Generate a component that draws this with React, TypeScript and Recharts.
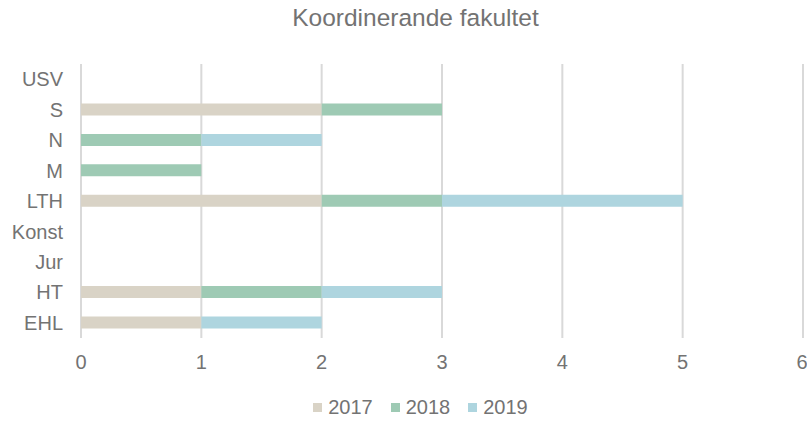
import { BarChart, Bar, XAxis, YAxis, CartesianGrid } from 'recharts'

const faculties = ['USV', 'S', 'N', 'M', 'LTH', 'Konst', 'Jur', 'HT', 'EHL']
const y2017 = [0, 2, 0, 0, 2, 0, 0, 1, 1]
const y2018 = [0, 1, 1, 1, 1, 0, 0, 1, 0]
const y2019 = [0, 0, 1, 0, 2, 0, 0, 1, 1]
const xTicks = [0, 1, 2, 3, 4, 5, 6]

const COLORS = {
  y2017: '#d9d3c6',
  y2018: '#9ecab4',
  y2019: '#aed5df',
  grid: '#d9d9d9',
  text: '#737373'
}

const FONT = '"Liberation Sans", Arial, sans-serif'

const data = faculties.map((name, i) => ({
  name,
  y2017: y2017[i],
  y2018: y2018[i],
  y2019: y2019[i]
}))

const legendItems = [
  { label: '2017', color: COLORS.y2017 },
  { label: '2018', color: COLORS.y2018 },
  { label: '2019', color: COLORS.y2019 }
]

export default function App() {
  return (
    <div style={{ position: 'absolute', left: 0, top: 0, width: 807, height: 421, background: '#fff', fontFamily: FONT }}>
      <div style={{ position: 'absolute', top: 4, left: 0, width: 831, textAlign: 'center', fontSize: 24.5, color: COLORS.text }}>
        Koordinerande fakultet
      </div>
      <BarChart
        width={807}
        height={421}
        data={data}
        layout="vertical"
        margin={{ top: 64, right: 4, bottom: 43, left: 0 }}
        barSize={12}
      >
        <CartesianGrid horizontal={false} stroke={COLORS.grid} strokeWidth={2} />
        <XAxis
          type="number"
          domain={[0, 6]}
          ticks={xTicks}
          axisLine={false}
          tickLine={false}
          tickSize={0}
          tickMargin={17}
          height={40}
          tick={{ fill: COLORS.text, fontSize: 20, fontFamily: FONT }}
        />
        <YAxis
          type="category"
          dataKey="name"
          width={81}
          axisLine={false}
          tickLine={false}
          tickSize={0}
          tickMargin={18}
          interval={0}
          tick={{ fill: COLORS.text, fontSize: 20, fontFamily: FONT }}
        />
        <Bar dataKey="y2017" stackId="a" fill={COLORS.y2017} isAnimationActive={false} />
        <Bar dataKey="y2018" stackId="a" fill={COLORS.y2018} isAnimationActive={false} />
        <Bar dataKey="y2019" stackId="a" fill={COLORS.y2019} isAnimationActive={false} />
      </BarChart>
      <div style={{ position: 'absolute', top: 396, left: 0, width: 807, display: 'flex', justifyContent: 'center', paddingLeft: 34, boxSizing: 'border-box', gap: 18, fontSize: 20, color: COLORS.text }}>
        {legendItems.map(item => (
          <span key={item.label} style={{ display: 'flex', alignItems: 'center', gap: 6 }}>
            <span style={{ width: 9, height: 9, background: item.color, display: 'inline-block' }}></span>
            {item.label}
          </span>
        ))}
      </div>
    </div>
  )
}
